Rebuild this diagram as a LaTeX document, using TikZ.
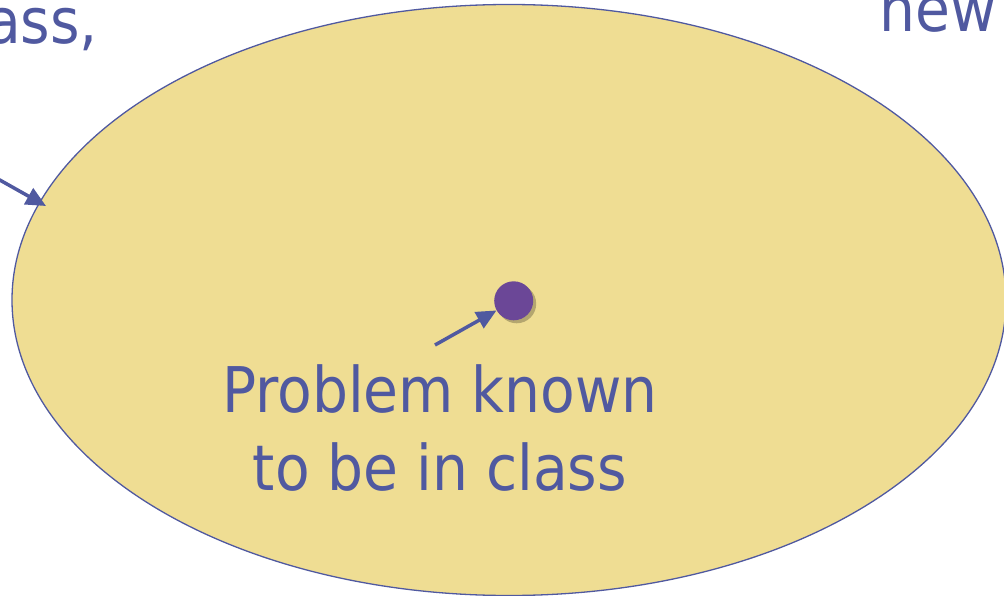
\documentclass[tikz,border=0pt]{standalone}
\usepackage{fontspec}
\setmainfont{DejaVu Sans Condensed}
\usetikzlibrary{arrows.meta,shapes.geometric,shadows}
\definecolor{txtblue}{HTML}{5059A0}
\definecolor{fillyellow}{HTML}{EFDD93}
\definecolor{dotpurple}{HTML}{6B4797}
\tikzset{
  lbl/.style={text=txtblue, font=\fontsize{63}{78}\selectfont, inner sep=0pt},
  pointer/.style={draw=txtblue, line width=3.5pt, -{Triangle[length=20pt,width=18pt]}},
}
\begin{document}
\begin{tikzpicture}[x=1pt,y=-1pt]
\useasboundingbox (0,0) rectangle (1004,596);
\clip (0,0) rectangle (1004,596);
\node[draw=txtblue, line width=1.3pt, fill=fillyellow, ellipse, minimum width=994pt, minimum height=591pt, inner sep=0pt] (set) at (509,300) {};
\node[circle, fill=dotpurple, minimum size=39pt, inner sep=0pt, drop shadow={shadow xshift=3pt, shadow yshift=-3pt, opacity=0.35, fill=black!70!fillyellow}] (dot) at (513.7,300.8) {};
\node[lbl, anchor=base east] (ass) at (98,44) {ass,};
\node[lbl, anchor=base west] (new) at (879,32) {new};
\node[lbl, align=center, anchor=base] (known) at (440,490) {Problem known\\to be in class};
\coordinate (lefttail) at (-2,179);
\coordinate (edge) at (46,206);
\coordinate (dottail) at (435,345);
\draw[pointer] (lefttail) -- (edge);
\draw[pointer] (dottail) -- (dot);
\end{tikzpicture}
\end{document}
